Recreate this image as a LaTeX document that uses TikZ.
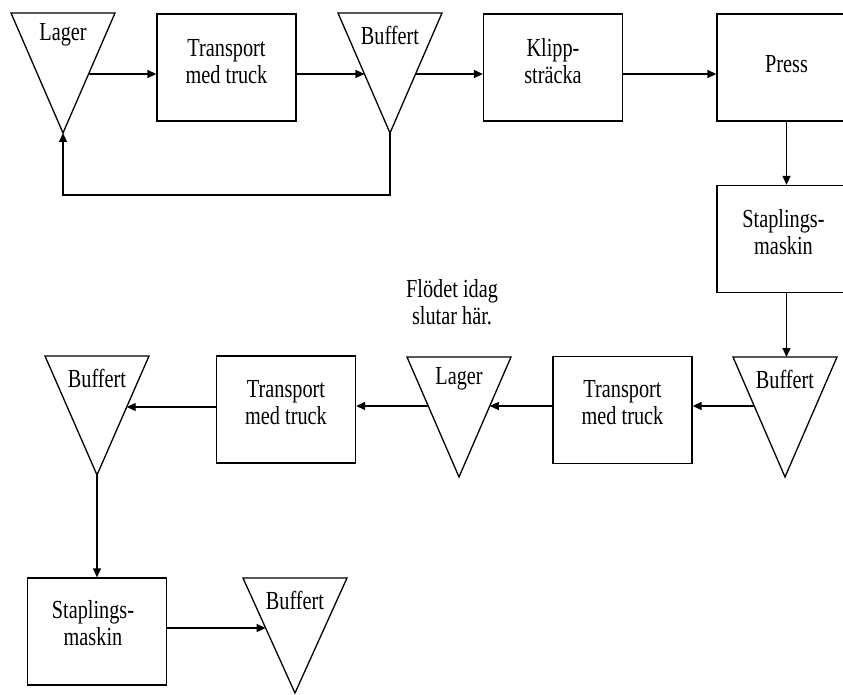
\documentclass[tikz,border=0pt]{standalone}
\usepackage{fontspec}
\setmainfont{Liberation Serif}
\usetikzlibrary{arrows.meta,calc}

\tikzset{
  stroke/.style={line width=1.3pt},
  box/.style={stroke, draw, rectangle, minimum width=139pt, minimum height=107pt, inner sep=0pt},
  tri/.style={stroke, line join=miter},
  txt/.style={font=\fontsize{26}{27}\selectfont, align=center, inner sep=0pt, xscale=0.78},
  flow/.style={stroke, -{Triangle[length=9pt,width=8pt]}},
}

% Inverted triangle (storage / buffer symbol):
% #1 name, #2 centre x, #3 top y, #4 height, #5 label, #6 level of the connectors
\newcommand{\flowtri}[6]{%
  \coordinate (#1-tl) at ({#2-52},#3);
  \coordinate (#1-tr) at ({#2+52},#3);
  \coordinate (#1-apex) at (#2,{#3+#4});
  \draw[tri] (#1-tl) -- (#1-tr) -- (#1-apex) -- cycle;
  \coordinate (#1-lab) at (#2,{#3+22});
  \node[txt] (#1) at (#1-lab) {#5};
  \coordinate (#1-l) at ({#2-52*(#3+#4-#6)/#4},#6);
  \coordinate (#1-r) at ({#2+52*(#3+#4-#6)/#4},#6);
}

\begin{document}
\begin{tikzpicture}[x=1pt,y=-1pt]
\fill[white] (0,0) rectangle (843,695);
\useasboundingbox (0,0) rectangle (843,695);
\clip (0,0) rectangle (843,695);

% process boxes
\node[box] (t1) at (226.5,67.5) {};
\node[txt] (t1-text) at ([yshift=6pt]t1.center) {Transport\\med truck};
\node[box] (k) at (553,67.5) {};
\node[txt] (k-text) at ([yshift=6pt]k.center) {Klipp-\\sträcka};
\node[box] (p) at (786.5,67.5) {};
\node[txt] (p-text) at ([yshift=3pt]p.center) {Press};
\node[box] (s1) at (786.5,239) {};
\node[txt] (s1-text) at ([xshift=-3pt,yshift=7pt]s1.center) {Staplings-\\maskin};
\node[box] (t2) at (622.5,410) {};
\node[txt] (t2-text) at ([yshift=7pt]t2.center) {Transport\\med truck};
\node[box] (t3) at (286,409.5) {};
\node[txt] (t3-text) at ([yshift=7pt]t3.center) {Transport\\med truck};
\node[box] (s2) at (97,631.5) {};
\node[txt] (s2-text) at ([xshift=-4pt,yshift=8pt]s2.center) {Staplings-\\maskin};

% storage and buffer triangles
\flowtri{l1}{63}{13}{120}{Lager}{74}
\flowtri{b1}{390}{13}{120}{Buffert}{74}
\flowtri{b2}{785}{357}{120}{Buffert}{406}
\flowtri{l2}{459}{357}{120}{Lager}{406}
\flowtri{b3}{97}{356}{119}{Buffert}{407}
\flowtri{b4}{295}{578}{115}{Buffert}{628}

% note
\coordinate (note-pos) at (452,302);
\node[txt] (note) at (note-pos) {Flödet idag\\slutar här.};

% material flow
\draw[flow] (l1-r) -- (l1-r -| t1.west);
\draw[flow] (t1.east |- b1-l) -- (b1-l);
\draw[flow] (b1-r) -- (b1-r -| k.west);
\draw[flow] (k.east |- b1-r) -- (b1-r -| p.west);
\draw[flow] (b1-apex) -- ++(0,62) -| (l1-apex);
\draw[flow] (p.south) -- (s1.north);
\draw[flow] (s1.south) -- (s1.south |- b2-tl);
\draw[flow] (b2-l) -- (b2-l -| t2.east);
\draw[flow] (t2.west |- l2-r) -- (l2-r);
\draw[flow] (l2-l) -- (l2-l -| t3.east);
\draw[flow] (t3.west |- b3-r) -- (b3-r);
\draw[flow] (b3-apex) -- (s2.north);
\draw[flow] (s2.east |- b4-l) -- (b4-l);
\end{tikzpicture}
\end{document}
